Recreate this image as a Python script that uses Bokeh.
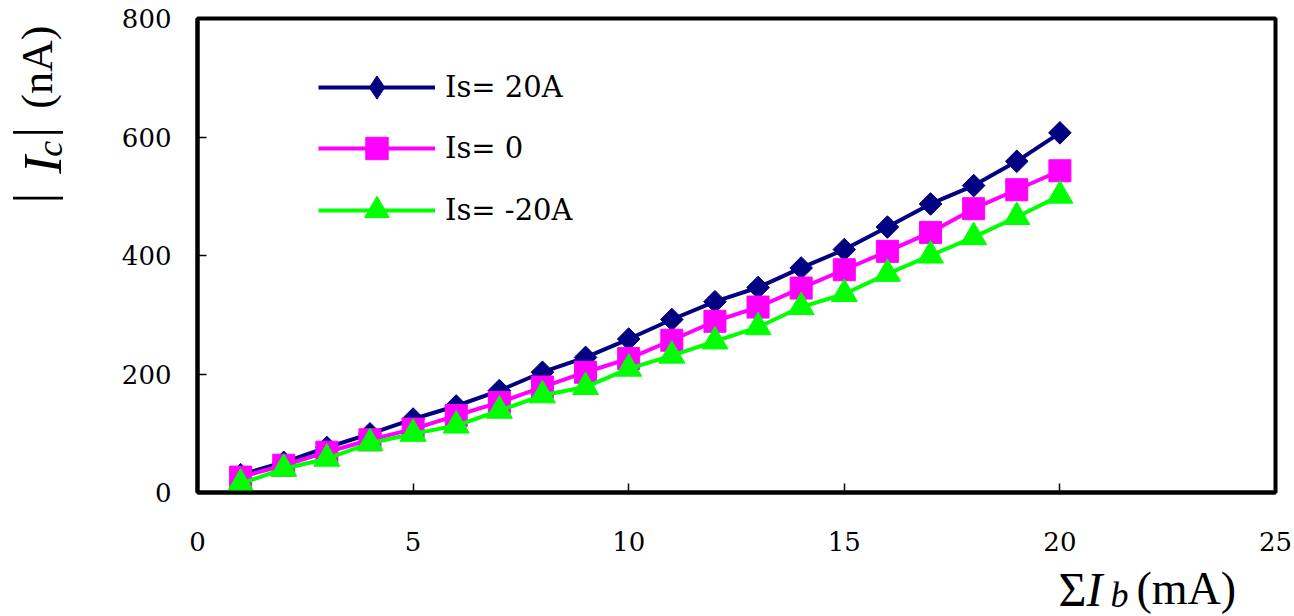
import math
from bokeh.plotting import figure
from bokeh.models import Range1d, Legend, LegendItem, FixedTicker
from bokeh.core.properties import value
from bokeh.layouts import column, row
from bokeh.embed import file_html
from bokeh.resources import INLINE

# ---- data ----
sum_ib = [1, 2, 3, 4, 5, 6, 7, 8, 9, 10, 11, 12, 13, 14, 15, 16, 17, 18, 19, 20]
ic_is_pos20 = [30, 51, 76, 99, 124, 146, 172, 203, 228, 259, 292, 322, 346, 379, 410, 448, 487, 518, 559, 607]
ic_is_zero = [26, 46, 68, 89, 107, 130, 152, 178, 203, 226, 257, 289, 313, 345, 376, 407, 439, 479, 511, 543]
ic_is_neg20 = [15, 40, 57, 83, 99, 113, 138, 164, 178, 209, 231, 255, 279, 313, 335, 369, 400, 431, 465, 501]
series_labels = ["Is= 20A", "Is= 0", "Is= -20A"]
x_ticks = [0, 5, 10, 15, 20, 25]
y_ticks = [0, 200, 400, 600, 800]

TICK_FONT = "DejaVu Serif"
TITLE_FONT = "Liberation Serif"

W, H = 1294, 616
YL_W = 75          # width of the strip holding the y-axis title
MAIN_H = 562       # height of the main plot
XL_H = H - MAIN_H  # strip holding the x-axis title
FL, FR, FT, FB = 197, 1275, 18, 492  # frame edges (page pixels)

p = figure(width=W - YL_W, height=MAIN_H, output_backend="svg", toolbar_location=None,
           x_range=Range1d(0, 25), y_range=Range1d(0, 800),
           min_border_left=FL - YL_W, min_border_right=W - FR,
           min_border_top=FT, min_border_bottom=MAIN_H - FB)
p.xgrid.visible = False
p.ygrid.visible = False
p.outline_line_color = "black"
p.outline_line_width = 4
p.outline_line_alpha = 1

for ax in (p.xaxis[0], p.yaxis[0]):
    ax.axis_line_width = 4
    ax.axis_line_color = "black"
    ax.major_tick_line_color = "black"
    ax.major_tick_line_width = 1.5
    ax.major_tick_in = 9
    ax.major_tick_out = 0
    ax.minor_tick_line_color = None
    ax.major_label_text_font = TICK_FONT
    ax.major_label_text_font_size = "26px"
    ax.major_label_text_color = "black"
p.xaxis.ticker = FixedTicker(ticks=x_ticks)
p.yaxis.ticker = FixedTicker(ticks=y_ticks)
p.xaxis.major_label_standoff = 39
p.yaxis.major_label_standoff = 26

styles = [
    dict(data=ic_is_pos20, color="#000080", marker="square", size=16, angle=math.pi / 4,
         leg_marker="diamond", gh=58),
    dict(data=ic_is_zero, color="#FF00FF", marker="square", size=22, angle=0,
         leg_marker="square", gh=56),
    dict(data=ic_is_neg20, color="#00FF00", marker="triangle", size=26, angle=0,
         leg_marker="triangle", gh=62),
]
centers_px = [87, 148, 210]

for st, lab, cy in zip(styles, series_labels, centers_px):
    ln = p.line(sum_ib, st["data"], line_color=st["color"], line_width=4)
    p.scatter(sum_ib, st["data"], marker=st["marker"], size=st["size"], angle=st["angle"],
              fill_color=st["color"], line_color=st["color"])
    # hidden renderer that only supplies the legend key marker
    lk = p.scatter(sum_ib, st["data"], marker=st["leg_marker"], size=st["size"],
                   fill_color=st["color"], line_color=st["color"], visible=False)
    gh = st["gh"]
    bottom_px = cy + gh / 2
    leg = Legend(items=[LegendItem(label=lab, renderers=[ln, lk])],
                 location=(318 - FL, FB - bottom_px),
                 glyph_width=117, glyph_height=gh, label_height=gh,
                 label_standoff=10, padding=0, margin=0, spacing=0,
                 border_line_alpha=0, background_fill_alpha=0, inactive_fill_alpha=0,
                 label_text_font=TICK_FONT, label_text_font_size="29px",
                 label_text_color="black")
    p.add_layout(leg)

# ---- y-axis title strip ----
yl = figure(width=YL_W, height=MAIN_H, output_backend="svg", toolbar_location=None,
            x_range=Range1d(0, YL_W), y_range=Range1d(0, MAIN_H),
            x_axis_location=None, y_axis_location=None, min_border=0)
yl.outline_line_color = None
yl.grid.visible = False

def ytxt(txt, mid_x, page_y, size, italic=False, align="left"):
    yl.text(x=[mid_x], y=[MAIN_H - page_y], text=[txt], angle=math.pi / 2,
            text_font=value(TITLE_FONT), text_font_size=value(size),
            text_font_style=value("italic" if italic else "normal"),
            text_align=value(align), text_baseline=value("middle"), text_color="black")

ytxt("|", 32, 213, "54px", align="center")
ytxt("I", 42, 184, "54px", italic=True)
ytxt("c", 49, 164, "36px", italic=True)
ytxt("|", 32, 135, "54px", align="center")
ytxt("(nA)", 37, 107, "44px")

# ---- x-axis title strip ----
xl = figure(width=W, height=XL_H, output_backend="svg", toolbar_location=None,
            x_range=Range1d(0, W), y_range=Range1d(0, XL_H),
            x_axis_location=None, y_axis_location=None, min_border=0)
xl.outline_line_color = None
xl.grid.visible = False

def xtxt(txt, page_x, mid_y, size, italic=False):
    xl.text(x=[page_x], y=[H - mid_y], text=[txt],
            text_font=value(TITLE_FONT), text_font_size=value(size),
            text_font_style=value("italic" if italic else "normal"),
            text_align=value("left"), text_baseline=value("middle"), text_color="black")

xtxt("\u03a3", 1058, 589, "48px")
xtxt("I", 1086, 589, "48px", italic=True)
xtxt("b", 1110, 594, "36px", italic=True)
xtxt("(mA)", 1136, 588, "46px")

layout = column(row(yl, p), xl)
open("out.html", "w").write(file_html(layout, INLINE))
